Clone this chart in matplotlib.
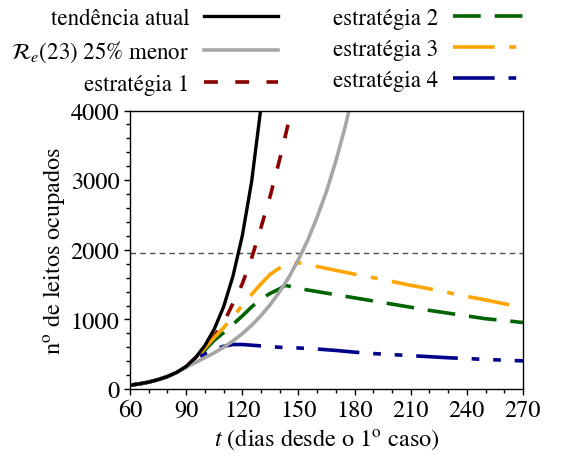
import matplotlib
matplotlib.use('Agg')
import matplotlib.pyplot as plt
from matplotlib.ticker import MultipleLocator

plt.rcParams['font.family'] = 'serif'
plt.rcParams['font.serif'] = ['STIXGeneral', 'Liberation Serif', 'DejaVu Serif']
plt.rcParams['mathtext.fontset'] = 'stix'
plt.rcParams['font.size'] = 17.5
plt.rcParams['lines.scale_dashes'] = False

# dias desde o primeiro caso / leitos ocupados
t_atual = [60, 65, 70, 75, 80, 85, 90, 95, 100, 105, 110, 115, 120, 125, 130, 135]
leitos_atual = [55, 75, 100, 135, 180, 240, 325, 450, 625, 860, 1180, 1620, 2200, 2980, 4050, 5400]

t_menor = [60, 65, 70, 75, 80, 85, 90, 95, 100, 105, 110, 115, 120, 125, 130, 135,
           140, 145, 150, 155, 160, 165, 170, 175, 180]
leitos_menor = [55, 75, 100, 135, 180, 240, 315, 380, 450, 520, 600, 690, 795, 915, 1055, 1215,
                1400, 1610, 1860, 2140, 2470, 2840, 3275, 3770, 4340]

t_est1 = [60, 65, 70, 75, 80, 85, 90, 95, 100, 105, 110, 115, 120, 125, 130, 135, 140, 145, 150]
leitos_est1 = [55, 75, 100, 135, 180, 240, 325, 450, 600, 760, 950, 1230, 1510, 1880, 2320, 2780,
               3300, 3860, 4450]

t_est2 = [60, 65, 70, 75, 80, 85, 90, 95, 100, 105, 110, 115, 120, 125, 130, 135, 140, 143,
          150, 160, 170, 180, 190, 200, 210, 220, 230, 240, 250, 260, 270]
leitos_est2 = [55, 75, 100, 135, 180, 240, 320, 420, 560, 700, 810, 930, 1050, 1180, 1295, 1375, 1440, 1490,
               1445, 1400, 1355, 1310, 1265, 1220, 1175, 1130, 1090, 1050, 1010, 985, 955]

t_est3 = [60, 65, 70, 75, 80, 85, 90, 95, 100, 105, 110, 115, 120, 125, 130, 135, 140, 145, 150,
          160, 170, 180, 190, 200, 210, 220, 230, 240, 250, 260, 270]
leitos_est3 = [55, 75, 100, 135, 180, 240, 320, 445, 590, 740, 880, 1040, 1200, 1360, 1510, 1650, 1740, 1790, 1815,
               1760, 1705, 1650, 1600, 1545, 1490, 1440, 1385, 1330, 1280, 1225, 1175]

t_est4 = [60, 65, 70, 75, 80, 85, 90, 95, 100, 105, 110, 115, 120, 130, 140, 150,
          160, 170, 180, 190, 200, 210, 220, 230, 240, 250, 260, 270]
leitos_est4 = [55, 75, 100, 135, 180, 240, 320, 420, 505, 565, 615, 640, 640, 620, 600, 590,
               575, 555, 530, 510, 495, 480, 465, 450, 438, 425, 415, 405]

capacidade = 1950

fig = plt.figure(figsize=(5.61, 4.6), dpi=100)
ax = fig.add_axes([0.2317, 0.152, 0.7006, 0.6056])

ax.axhline(capacidade, color='0.3', lw=1.0, dashes=(4, 3), zorder=1)

l1, = ax.plot(t_est1, leitos_est1, color='#8b0000', lw=2.6, dashes=(10, 12.5), zorder=2)
l2, = ax.plot(t_est2, leitos_est2, color='#006400', lw=2.6, dashes=(20, 10), zorder=2)
l3, = ax.plot(t_est3, leitos_est3, color='#ffa500', lw=2.6, dashes=(30, 10.5, 5, 10.5), zorder=2)
l4, = ax.plot(t_est4, leitos_est4, color='#00008b', lw=2.6,
              dashes=(30, 10, 5.5, 10, 5.5, 10), zorder=2)
lg, = ax.plot(t_menor, leitos_menor, color='#a6a6a6', lw=2.6, zorder=2.5)
lb, = ax.plot(t_atual, leitos_atual, color='black', lw=2.4, zorder=3)

ax.set_xlim(60, 270)
ax.set_ylim(0, 4000)
ax.xaxis.set_major_locator(MultipleLocator(30))
ax.xaxis.set_minor_locator(MultipleLocator(10))
ax.yaxis.set_major_locator(MultipleLocator(1000))
ax.yaxis.set_minor_locator(MultipleLocator(200))
ax.tick_params(which='both', direction='out', width=1.0, labelsize=17.5)
ax.tick_params(which='major', length=4.5, pad=3)
ax.tick_params(which='minor', length=3.2)
for s in ax.spines.values():
    s.set_linewidth(1.0)

ax.set_xlabel(r'$t$ (dias desde o 1$^{\rm o}$ caso)', fontsize=17.5, labelpad=4)
ax.set_ylabel(r'n$^{\rm o}$ de leitos ocupados', fontsize=17.5, labelpad=3)

handles = [lb, lg, l1, l2, l3, l4]
labels = ['tendência atual', r'$\mathcal{R}_e$(23) 25% menor', 'estratégia 1',
          'estratégia 2', 'estratégia 3', 'estratégia 4']
fig.legend(handles, labels, ncol=2, markerfirst=False, frameon=False,
           loc='upper left', bbox_to_anchor=(0.008, 0.9957), borderaxespad=0.2, borderpad=0.1,
           handlelength=3.2, handletextpad=0.65, columnspacing=2.4, labelspacing=0.42,
           fontsize=16.5)

fig.savefig('out.png', dpi=100)
